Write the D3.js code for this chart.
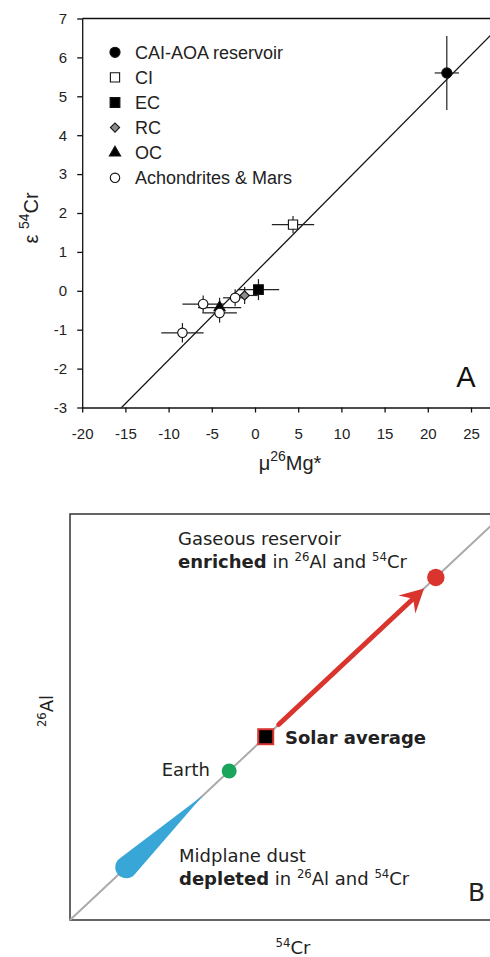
<!DOCTYPE html>
<html lang="en">
<head>
<meta charset="UTF-8">
<title>26Al - 54Cr correlation</title>
<script src="https://d3js.org/d3.v7.min.js"></script>
<style>
  body { margin: 0; padding: 0; background: #fff; }
  svg { display: block; }
  .axA text { font-family: "Liberation Sans", Arial, sans-serif; font-size: 15px; fill: #222; }
  .axA path, .axA line { stroke: #111; stroke-width: 1.3; }
  .schem { font-family: "DejaVu Sans", sans-serif; fill: #222; }
</style>
</head>
<body>
<svg width="490" height="957"></svg>
<script>
// ---- Panel A data ----
const groups = ["CAI-AOA reservoir", "CI", "EC", "RC", "OC", "Achondrites & Mars"];
const ptGroup = ["CAI-AOA reservoir", "CI", "EC", "RC", "OC",
                 "Achondrites & Mars", "Achondrites & Mars", "Achondrites & Mars", "Achondrites & Mars"];
const ptMg    = [22.2, 4.4, 0.4, -1.2, -4.1, -8.4, -6.0, -2.3, -4.1];
const ptCr    = [5.6, 1.7, 0.03, -0.12, -0.43, -1.08, -0.34, -0.18, -0.57];
const ptMgErr = [1.4, 2.45, 2.4, 1.5, 2.5, 2.45, 2.4, 1.4, 2.0];
const ptCrErr = [0.95, 0.22, 0.27, 0.22, 0.25, 0.25, 0.22, 0.22, 0.25];
const xTicks = [-20, -15, -10, -5, 0, 5, 10, 15, 20, 25];
const yTicks = [-3, -2, -1, 0, 1, 2, 3, 4, 5, 6, 7];
const fitSlope = 0.224, fitIntercept = 0.46;

// ---- Panel B (schematic, unitless positions along the mixing line) ----
const dustFrom = 0.134, dustTo = 0.317;
const earthT = 0.379, solarT = 0.466;
const arrowFrom = 0.497, arrowTo = 0.843, gasT = 0.871;

const svg = d3.select("svg");

// ================= Panel A =================
const xA = d3.scaleLinear().domain([-20, 30]).range([82.2, 514.2]);
const yA = d3.scaleLinear().domain([-3, 7]).range([407.5, 18.5]);

const gA = svg.append("g");

svg.append("clipPath").attr("id", "clipA")
  .append("rect")
  .attr("x", xA(-20)).attr("y", yA(7))
  .attr("width", xA(30) - xA(-20)).attr("height", yA(-3) - yA(7));

// axes
gA.append("g").attr("class", "axA")
  .attr("transform", `translate(0,${yA(-3)})`)
  .call(d3.axisBottom(xA).tickValues(xTicks).tickSize(5).tickSizeOuter(0)
        .tickPadding(16).tickFormat(d => String(d)));
gA.append("g").attr("class", "axA")
  .attr("transform", `translate(${xA(-20)},0)`)
  .call(d3.axisLeft(yA).tickValues(yTicks).tickSize(5).tickSizeOuter(0)
        .tickPadding(10).tickFormat(d => String(d)));
// top border
gA.append("line")
  .attr("x1", xA(-20)).attr("x2", xA(30))
  .attr("y1", yA(7)).attr("y2", yA(7))
  .attr("stroke", "#111").attr("stroke-width", 1.3);

// regression line
const fitX = [-20, 30];
gA.append("path")
  .attr("clip-path", "url(#clipA)")
  .attr("d", d3.line().x(d => xA(d)).y(d => yA(fitIntercept + fitSlope * d))(fitX))
  .attr("fill", "none").attr("stroke", "#111").attr("stroke-width", 1.3);

const idx = d3.range(ptMg.length);

// error bars
gA.append("g").selectAll("line.ex").data(idx).join("line")
  .attr("x1", i => xA(ptMg[i] - ptMgErr[i])).attr("x2", i => xA(ptMg[i] + ptMgErr[i]))
  .attr("y1", i => yA(ptCr[i])).attr("y2", i => yA(ptCr[i]))
  .attr("stroke", "#222").attr("stroke-width", 1.2);
gA.append("g").selectAll("line.ey").data(idx).join("line")
  .attr("x1", i => xA(ptMg[i])).attr("x2", i => xA(ptMg[i]))
  .attr("y1", i => yA(ptCr[i] - ptCrErr[i])).attr("y2", i => yA(ptCr[i] + ptCrErr[i]))
  .attr("stroke", "#222").attr("stroke-width", 1.2);

// marker styles per group
const markerStyle = {
  "CAI-AOA reservoir":  { type: d3.symbolCircle,   size: 80, fill: "#000", rot: 0 },
  "CI":                 { type: d3.symbolSquare,   size: 85, fill: "#fff", rot: 0 },
  "EC":                 { type: d3.symbolSquare,   size: 95, fill: "#000", rot: 0 },
  "RC":                 { type: d3.symbolSquare,   size: 42, fill: "#8c8c8c", rot: 45 },
  "OC":                 { type: d3.symbolTriangle, size: 55, fill: "#000", rot: 0 },
  "Achondrites & Mars": { type: d3.symbolCircle,   size: 70, fill: "#fff", rot: 0 }
};
const sym = g => d3.symbol().type(markerStyle[g].type).size(markerStyle[g].size)();

gA.append("g").selectAll("path").data(idx).join("path")
  .attr("d", i => sym(ptGroup[i]))
  .attr("transform", i => `translate(${xA(ptMg[i])},${yA(ptCr[i])}) rotate(${markerStyle[ptGroup[i]].rot})`)
  .attr("fill", i => markerStyle[ptGroup[i]].fill)
  .attr("stroke", "#111").attr("stroke-width", 1.1);

// legend
const leg = gA.append("g").attr("transform", "translate(115,52.3)");
const legRow = leg.selectAll("g").data(groups).join("g")
  .attr("transform", (d, i) => `translate(0,${i * 25.1})`);
legRow.append("path")
  .attr("d", d => sym(d))
  .attr("transform", d => `rotate(${markerStyle[d].rot})`)
  .attr("fill", d => markerStyle[d].fill)
  .attr("stroke", "#111").attr("stroke-width", 1.1);
legRow.append("text")
  .attr("x", 20).attr("dy", "0.36em")
  .style("font-family", "'Liberation Sans', Arial, sans-serif")
  .style("font-size", "18px").style("fill", "#222")
  .text(d => d);

// axis titles
const xLab = gA.append("text")
  .attr("x", 290).attr("y", 470).attr("text-anchor", "middle")
  .style("font-family", "'Liberation Sans', Arial, sans-serif")
  .style("font-size", "20px").style("fill", "#222");
xLab.append("tspan").text("μ");
xLab.append("tspan").attr("dy", -9).style("font-size", "14px").text("26");
xLab.append("tspan").attr("dy", 9).text("Mg*");

const yLab = gA.append("text")
  .attr("transform", "translate(38,218) rotate(-90)").attr("text-anchor", "middle")
  .style("font-family", "'Liberation Sans', Arial, sans-serif")
  .style("font-size", "20px").style("fill", "#222");
yLab.append("tspan").text("ε ");
yLab.append("tspan").attr("dy", -9).style("font-size", "14px").text("54");
yLab.append("tspan").attr("dy", 9).text("Cr");

gA.append("text").attr("x", 466).attr("y", 387).attr("text-anchor", "middle")
  .style("font-family", "'Liberation Sans', Arial, sans-serif")
  .style("font-size", "29px").style("fill", "#111").text("A");

// ================= Panel B =================
const xB = d3.scaleLinear().domain([0, 1]).range([70, 490]);
const yB = d3.scaleLinear().domain([0, 1]).range([920, 526.7]);
const gB = svg.append("g");

// frame
gB.append("path")
  .attr("d", `M490,514 H70 V920 H490`)
  .attr("fill", "none").attr("stroke", "#333").attr("stroke-width", 1.5);

// mixing line
gB.append("path")
  .attr("d", d3.line().x(d => xB(d)).y(d => yB(d))([0, 1.05]))
  .attr("stroke", "#aaa").attr("stroke-width", 2).attr("fill", "none");

// dust teardrop
{
  const cx = xB(dustFrom), cy = yB(dustFrom), px = xB(dustTo), py = yB(dustTo);
  const r = 11;
  const d = Math.hypot(px - cx, py - cy);
  const th = Math.atan2(py - cy, px - cx);
  const al = Math.acos(r / d);
  const t1 = [cx + r * Math.cos(th + al), cy + r * Math.sin(th + al)];
  const t2 = [cx + r * Math.cos(th - al), cy + r * Math.sin(th - al)];
  gB.append("path")
    .attr("d", `M${px},${py} L${t1[0]},${t1[1]} A${r},${r} 0 1 1 ${t2[0]},${t2[1]} Z`)
    .attr("fill", "#38a7d8");
}

// red arrow
{
  const sx = xB(arrowFrom), sy = yB(arrowFrom), tx = xB(arrowTo), ty = yB(arrowTo);
  const len = Math.hypot(tx - sx, ty - sy);
  const ux = (tx - sx) / len, uy = (ty - sy) / len;
  const nx = -uy, ny = ux;
  const back = 23.5, half = 12.4, notch = 15;
  gB.append("line")
    .attr("x1", sx).attr("y1", sy)
    .attr("x2", tx - ux * notch).attr("y2", ty - uy * notch)
    .attr("stroke", "#d9352e").attr("stroke-width", 5).attr("stroke-linecap", "round");
  const pts = [
    [tx, ty],
    [tx - ux * back + nx * half, ty - uy * back + ny * half],
    [tx - ux * notch, ty - uy * notch],
    [tx - ux * back - nx * half, ty - uy * back - ny * half]
  ];
  gB.append("path").attr("d", "M" + pts.map(p => p.join(",")).join("L") + "Z")
    .attr("fill", "#d9352e");
}

// gaseous reservoir dot
gB.append("circle").attr("cx", xB(gasT)).attr("cy", yB(gasT)).attr("r", 8.7).attr("fill", "#d9352e");
// earth
gB.append("circle").attr("cx", xB(earthT)).attr("cy", yB(earthT)).attr("r", 7.5).attr("fill", "#19a55b");
// solar average
gB.append("rect")
  .attr("x", xB(solarT) - 7.5).attr("y", yB(solarT) - 7.5)
  .attr("width", 15).attr("height", 15)
  .attr("fill", "#000").attr("stroke", "#d9352e").attr("stroke-width", 2);

// rich text helper
function rich(x, y, parts, size, anchor) {
  const t = gB.append("text").attr("class", "schem")
    .attr("x", x).attr("y", y).attr("text-anchor", anchor || "start")
    .style("font-size", size + "px");
  let raised = false;
  parts.forEach(p => {
    const s = t.append("tspan").text(p.t);
    if (p.b) s.style("font-weight", "bold");
    if (p.sup) {
      s.attr("dy", raised ? 0 : -7).style("font-size", (size * 0.65) + "px");
      raised = true;
    } else {
      if (raised) s.attr("dy", 7);
      raised = false;
    }
  });
  return t;
}

rich(178, 545, [{ t: "Gaseous reservoir" }], 18);
rich(178, 568, [{ t: "enriched", b: true }, { t: " in " }, { t: "26", sup: true },
                { t: "Al and " }, { t: "54", sup: true }, { t: "Cr" }], 18);
rich(285, 744, [{ t: "Solar average", b: true }], 18);
rich(210, 776, [{ t: "Earth" }], 18, "end");
rich(179, 862, [{ t: "Midplane dust" }], 18);
rich(179, 885, [{ t: "depleted", b: true }, { t: " in " }, { t: "26", sup: true },
                { t: "Al and " }, { t: "54", sup: true }, { t: "Cr" }], 18);
rich(468, 901, [{ t: "B" }], 25);

// axis labels panel B
rich(293, 954, [{ t: "54", sup: true }, { t: "Cr" }], 18, "middle");
gB.append("text").attr("class", "schem")
  .attr("transform", "translate(53,711) rotate(-90)").attr("text-anchor", "middle")
  .style("font-size", "18px")
  .call(t => {
    t.append("tspan").attr("dy", -7).style("font-size", "11.7px").text("26");
    t.append("tspan").attr("dy", 7).text("Al");
  });
</script>
</body>
</html>
